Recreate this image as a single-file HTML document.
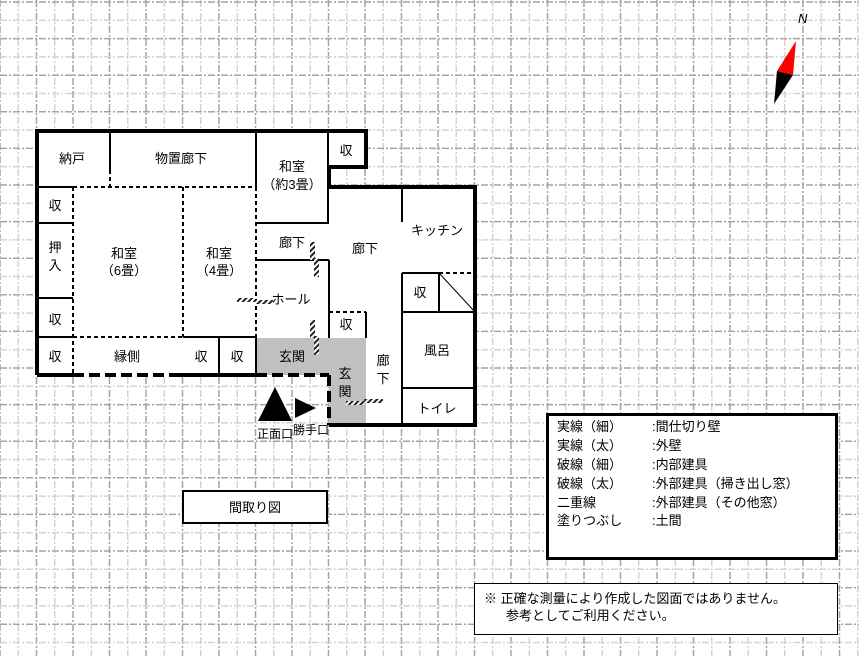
<!DOCTYPE html>
<html><head><meta charset="utf-8"><style>
html,body{margin:0;padding:0;background:#fff}
svg{display:block}
text{font-family:"Liberation Sans","Noto Sans CJK JP",sans-serif;font-size:13px;fill:#000}
</style></head><body>
<svg width="859" height="656" viewBox="0 0 859 656" xmlns="http://www.w3.org/2000/svg">
<defs>
<pattern id="hatch" width="4" height="4" patternUnits="userSpaceOnUse" patternTransform="rotate(45)">
<rect width="4" height="4" fill="#fff"/><rect width="2" height="4" fill="#222"/></pattern>
</defs>
<g id="grid" stroke-width="1.5" stroke-dasharray="7 2 2 2" fill="none"></g>
<script>
(function(){
var g=document.getElementById('grid'),ns='http://www.w3.org/2000/svg';
function L(x1,y1,x2,y2,c){var l=document.createElementNS(ns,'line');l.setAttribute('x1',x1);l.setAttribute('y1',y1);l.setAttribute('x2',x2);l.setAttribute('y2',y2);l.setAttribute('stroke',c);g.appendChild(l);}
for(var i=0;i<50;i++){var x=i*18.25;L(x,0,x,656,i%2?'#d4d4d4':'#a4a4a4');}
for(var j=0;j<37;j++){var y=2+j*18.3;L(0,y,859,y,j%2?'#d4d4d4':'#a4a4a4');}
})();
</script>
<polygon points="37,131 366,131 366,167 329,167 329,187 475,187 475,425 329,425 329,375 37,375" fill="#fff"/>
<rect x="546" y="413" width="292" height="147" fill="#fff"/>
<rect x="474" y="583" width="364" height="52" fill="#fff"/>
<rect x="182" y="490" width="146" height="34" fill="#fff"/>
<rect x="256" y="338" width="73" height="37" fill="#c0c0c0"/>
<rect x="329" y="338" width="37" height="87" fill="#c0c0c0"/>
<g stroke="#000" fill="none">
<g stroke-width="2">
<line x1="110" y1="131" x2="110" y2="170"/>
<line x1="37" y1="187" x2="73" y2="187"/>
<line x1="37" y1="223" x2="73" y2="223"/>
<line x1="37" y1="298" x2="73" y2="298"/>
<line x1="37" y1="337" x2="73" y2="337"/>
<line x1="183" y1="337" x2="256" y2="337"/>
<line x1="219" y1="337" x2="219" y2="375"/>
<line x1="256" y1="131" x2="256" y2="187"/>
<line x1="256" y1="337" x2="256" y2="375"/>
<line x1="328" y1="131" x2="328" y2="223"/>
<line x1="256" y1="223" x2="329" y2="223"/>
<line x1="256" y1="260" x2="329" y2="260"/>
<line x1="329" y1="260" x2="329" y2="338"/>
<line x1="366" y1="312" x2="366" y2="338"/>
<line x1="402" y1="187" x2="402" y2="222"/>
<line x1="402" y1="273" x2="402" y2="425"/>
<line x1="402" y1="273" x2="439" y2="273"/>
<line x1="439" y1="273" x2="439" y2="312"/>
<line x1="402" y1="312" x2="475" y2="312"/>
<line x1="402" y1="388" x2="475" y2="388"/>
</g>
<line x1="439" y1="273" x2="475" y2="312" stroke-width="1"/>
<g stroke-width="2" stroke-dasharray="4 3">
<line x1="110" y1="170" x2="110" y2="187"/>
<line x1="73" y1="187" x2="256" y2="187"/>
<line x1="73" y1="187" x2="73" y2="375"/>
<line x1="183" y1="187" x2="183" y2="337"/>
<line x1="73" y1="337" x2="183" y2="337"/>
<line x1="256" y1="187" x2="256" y2="337"/>
<line x1="329" y1="312" x2="366" y2="312"/>
<line x1="439" y1="273" x2="475" y2="273"/>
</g>
<polyline points="37,375 37,131 366,131 366,167 329,167 329,187 475,187 475,425 329,425" stroke-width="4"/>
<line x1="37" y1="375" x2="73" y2="375" stroke-width="4"/>
<line x1="175" y1="375" x2="256" y2="375" stroke-width="4"/>
<line x1="73" y1="375" x2="175" y2="375" stroke-width="4" stroke-dasharray="11 5"/>
<line x1="256" y1="375" x2="329" y2="375" stroke-width="4" stroke-dasharray="11 5"/>
<line x1="329" y1="375" x2="329" y2="425" stroke-width="4" stroke-dasharray="11 5"/>
</g>
<rect x="310" y="242" width="5" height="18" fill="url(#hatch)"/>
<rect x="314" y="258" width="5" height="19" fill="url(#hatch)"/>
<rect x="310" y="320" width="5" height="18" fill="url(#hatch)"/>
<rect x="314" y="336" width="5" height="19" fill="url(#hatch)"/>
<rect x="237" y="298" width="18" height="4" fill="url(#hatch)"/>
<rect x="255" y="300" width="18" height="4" fill="url(#hatch)"/>
<rect x="346" y="401" width="18" height="4" fill="url(#hatch)"/>
<rect x="364" y="399" width="19" height="4" fill="url(#hatch)"/>
<g text-anchor="middle">
<text x="72" y="163">納戸</text>
<text x="181" y="163">物置廊下</text>
<text x="55" y="210">収</text>
<text x="55" y="252">押</text>
<text x="55" y="270">入</text>
<text x="124" y="258">和室</text>
<text x="124" y="275">（6畳）</text>
<text x="219" y="258">和室</text>
<text x="219" y="275">（4畳）</text>
<text x="55" y="324">収</text>
<text x="55" y="361">収</text>
<text x="127" y="361">縁側</text>
<text x="201" y="361">収</text>
<text x="237" y="361">収</text>
<text x="292" y="171">和室</text>
<text x="292" y="189">（約3畳）</text>
<text x="346" y="155">収</text>
<text x="292" y="247">廊下</text>
<text x="365" y="253">廊下</text>
<text x="437" y="235">キッチン</text>
<text x="291" y="304">ホール</text>
<text x="420" y="297">収</text>
<text x="346" y="329">収</text>
<text x="292" y="361">玄関</text>
<text x="345" y="378">玄</text>
<text x="345" y="396">関</text>
<text x="383" y="365">廊</text>
<text x="383" y="383">下</text>
<text x="437" y="355">風呂</text>
<text x="437" y="413">トイレ</text>
<text x="275" y="438" style="font-size:12px">正面口</text>
<text x="311" y="434" style="font-size:12px">勝手口</text>
<text x="255" y="512">間取り図</text>
</g>
<polygon points="275,387 258,421 292,421" fill="#000"/>
<polygon points="295,398 295,418 316,408" fill="#000"/>
<rect x="183" y="491" width="144" height="32" fill="none" stroke="#000" stroke-width="2"/>
<rect x="547.5" y="414.5" width="289" height="144" fill="none" stroke="#000" stroke-width="3"/>
<g>
<text x="557" y="431">実線（細）</text><text x="652" y="431">:間仕切り壁</text>
<text x="557" y="450">実線（太）</text><text x="652" y="450">:外壁</text>
<text x="557" y="469">破線（細）</text><text x="652" y="469">:内部建具</text>
<text x="557" y="488">破線（太）</text><text x="652" y="488">:外部建具（掃き出し窓）</text>
<text x="557" y="507">二重線</text><text x="652" y="507">:外部建具（その他窓）</text>
<text x="557" y="525">塗りつぶし</text><text x="652" y="525">:土間</text>
</g>
<rect x="474.5" y="583.5" width="363" height="51" fill="none" stroke="#000" stroke-width="1"/>
<text x="484" y="603">※  正確な測量により作成した図面ではありません。</text>
<text x="506" y="620">参考としてご利用ください。</text>
<polygon points="796,41 777,71 793,75" fill="#f00"/>
<polygon points="777,71 793,75 774,104" fill="#000"/>
<text x="798" y="23" style="font-size:13px;font-style:italic">N</text>
</svg>
</body></html>
